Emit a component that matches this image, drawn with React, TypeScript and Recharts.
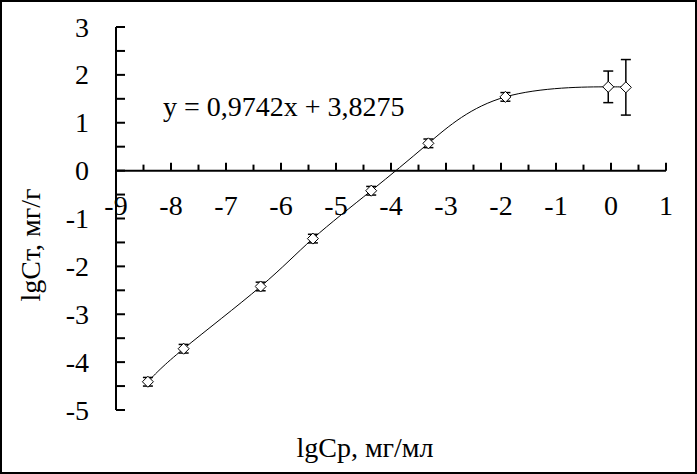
import React from 'react'
import {
  ComposedChart,
  Line,
  Scatter,
  ErrorBar,
  XAxis,
  YAxis,
  ReferenceLine,
  ReferenceDot,
} from 'recharts'

// ─── Data ────────────────────────────────────────────────────────────────────

const LG_CP = [-8.42, -7.77, -6.37, -5.42, -4.36, -3.32, -1.92, -0.05, 0.27]
const LG_CT = [-4.41, -3.72, -2.42, -1.42, -0.42, 0.57, 1.54, 1.75, 1.74]
const ERRORS = [0.09, 0.09, 0.09, 0.09, 0.09, 0.09, 0.09, 0.33, 0.58]

const X_MAJOR = [-9, -8, -7, -6, -5, -4, -3, -2, -1, 0, 1]
const X_MINOR = [-8.5, -7.5, -6.5, -5.5, -4.5, -3.5, -2.5, -1.5, -0.5, 0.5]
const Y_TICKS = [-5, -4.5, -4, -3.5, -3, -2.5, -2, -1.5, -1, -0.5, 0, 0.5, 1, 1.5, 2, 2.5, 3]

const EQUATION = 'y = 0,9742x + 3,8275'
const X_TITLE = 'lgCр, мг/мл'
const Y_TITLE = 'lgCт, мг/г'

const data = LG_CP.map((x, i) => ({ x, y: LG_CT[i], err: ERRORS[i] }))

// ─── Styling ─────────────────────────────────────────────────────────────────

const FONT = '"Liberation Serif", "Times New Roman", serif'
const FS = 28

// ─── Pieces ──────────────────────────────────────────────────────────────────

function YTick(props: any) {
  const { x, y, payload } = props
  const v = payload.value as number
  const major = Number.isInteger(v)
  return (
    <g>
      <line x1={x} x2={x + 9} y1={y} y2={y} stroke="#000" strokeWidth={2} />
      {major && (
        <text x={x - 27} y={y + 9.5} textAnchor="end" fontSize={FS} fontFamily={FONT} fill="#000">
          {String(v)}
        </text>
      )}
    </g>
  )
}

function xTickShape(value: number, major: boolean) {
  return (props: any) => {
    const { cx, cy } = props
    return (
      <g>
        <line x1={cx} x2={cx} y1={cy} y2={cy - (major ? 8 : 6)} stroke="#000" strokeWidth={2} />
        {major && (
          <text x={cx} y={cy + 44} textAnchor="middle" fontSize={FS} fontFamily={FONT} fill="#000">
            {String(value)}
          </text>
        )}
      </g>
    )
  }
}

function Diamond(props: any) {
  const { cx, cy } = props
  const s = 5.5
  return (
    <path
      d={`M${cx},${cy - s} L${cx + s},${cy} L${cx},${cy + s} L${cx - s},${cy} Z`}
      fill="#fff"
      stroke="#000"
      strokeWidth={1}
    />
  )
}

// ─── Main ────────────────────────────────────────────────────────────────────

export default function App() {
  return (
    <div style={{ position: 'absolute', left: 0, top: 0, width: 697, height: 474, background: '#fff' }}>
      <ComposedChart
        width={697}
        height={474}
        data={data}
        margin={{ top: 27, right: 31, bottom: 64, left: 0 }}
      >
        <XAxis type="number" dataKey="x" domain={[-9, 1]} ticks={X_MAJOR} hide />
        <YAxis
          type="number"
          domain={[-5, 3]}
          ticks={Y_TICKS}
          width={116}
          interval={0}
          axisLine={{ stroke: '#000', strokeWidth: 2 }}
          tickLine={false}
          tickSize={0}
          tickMargin={0}
          tick={<YTick />}
        />
        <ReferenceLine y={0} stroke="#000" strokeWidth={2} />
        {X_MAJOR.map(t => (
          <ReferenceDot key={`M${t}`} x={t} y={0} r={0} shape={xTickShape(t, true)} />
        ))}
        {X_MINOR.map(t => (
          <ReferenceDot key={`m${t}`} x={t} y={0} r={0} shape={xTickShape(t, false)} />
        ))}
        <Line
          type="natural"
          dataKey="y"
          stroke="#000"
          strokeWidth={1}
          dot={false}
          activeDot={false}
          isAnimationActive={false}
        />
        <Scatter dataKey="y" shape={<Diamond />} isAnimationActive={false}>
          <ErrorBar dataKey="err" direction="y" width={5} stroke="#000" strokeWidth={1.5} />
        </Scatter>
      </ComposedChart>
      <svg
        width={697}
        height={474}
        style={{ position: 'absolute', left: 0, top: 0, pointerEvents: 'none' }}
      >
        <text x={163} y={116} fontSize={FS} fontFamily={FONT} fill="#000">
          {EQUATION}
        </text>
        <text x={365} y={457} textAnchor="middle" fontSize={FS} fontFamily={FONT} fill="#000">
          {X_TITLE}
        </text>
        <text
          x={40}
          y={245}
          textAnchor="middle"
          fontSize={FS}
          fontFamily={FONT}
          fill="#000"
          transform="rotate(-90 40 245)"
        >
          {Y_TITLE}
        </text>
        <rect x={1} y={1} width={695} height={472} fill="none" stroke="#000" strokeWidth={2} />
      </svg>
    </div>
  )
}
